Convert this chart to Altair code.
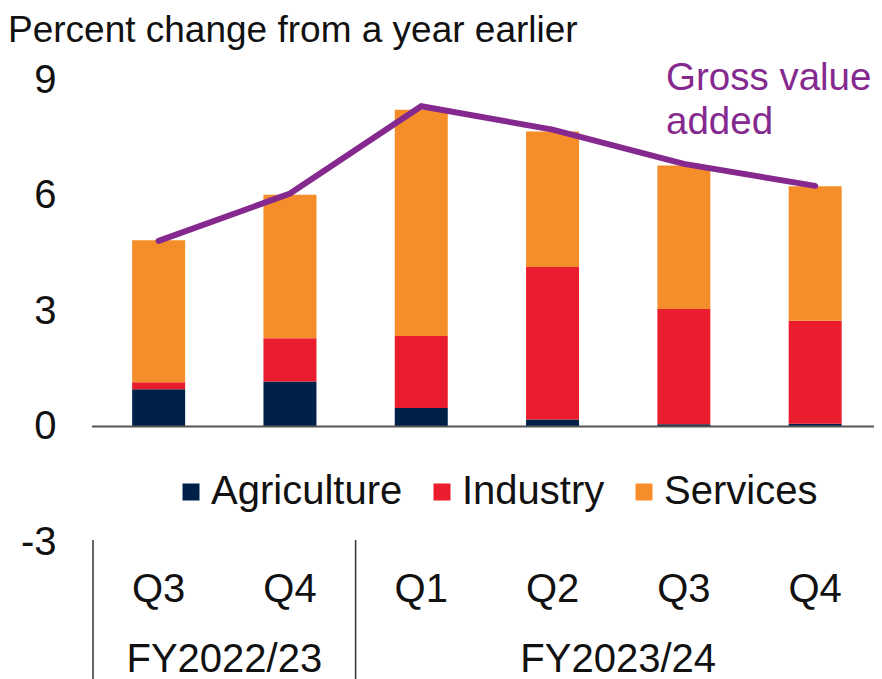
import altair as alt
import pandas as pd

# ---- data ----
quarters = ["Q3", "Q4", "Q1", "Q2", "Q3", "Q4"]
fiscal_years = ["FY2022/23", "FY2022/23", "FY2023/24", "FY2023/24", "FY2023/24", "FY2023/24"]
sectors = ["Agriculture", "Industry", "Services"]
agriculture = [0.97, 1.17, 0.48, 0.18, 0.06, 0.07]
industry = [0.18, 1.12, 1.87, 3.96, 2.99, 2.68]
services = [3.69, 3.73, 5.88, 3.52, 3.73, 3.49]
gross_value_added = [4.82, 6.05, 8.32, 7.71, 6.82, 6.25]
y_ticks = [-3, 0, 3, 6, 9]
title_text = "Percent change from a year earlier"
gva_label = ["Gross value", "added"]

colors = ["#002147", "#E91D2D", "#F58D2B"]
purple = "#86298F"
FONT = "Liberation Sans"
FS = 40

idx = list(range(len(quarters)))
bars_df = pd.DataFrame(
    [
        {"pos": i, "sector": s, "order": k, "value": v}
        for k, (s, vals) in enumerate(zip(sectors, [agriculture, industry, services]))
        for i, v in enumerate(vals)
    ]
)
line_df = pd.DataFrame({"pos": idx, "gva": gross_value_added})
q_df = pd.DataFrame({"pos": idx, "label": quarters, "fy": fiscal_years})
fy_df = q_df.groupby("fy", sort=False)["pos"].agg(["min", "max"]).reset_index()
fy_df["mid"] = (fy_df["min"] + fy_df["max"]) / 2
fy_df["sep"] = fy_df["min"] - 0.5
title_df = pd.DataFrame({"t": [title_text]})

W, H = 786, 462
xscale = alt.Scale(domain=[-0.5, len(quarters) - 1 + 0.41], nice=False, zero=False)
yscale = alt.Scale(domain=[-3, 9], nice=False, zero=False)

bars = alt.Chart(bars_df).mark_bar(size=53).encode(
    x=alt.X("pos:Q", scale=xscale, axis=None),
    y=alt.Y(
        "sum(value):Q",
        stack="zero",
        scale=yscale,
        axis=alt.Axis(
            values=y_ticks, title=None, grid=False, domain=False, ticks=False,
            labelExpr="'' + datum.value",
            labelFontSize=FS, labelFont=FONT, labelColor="#111111", labelPadding=32,
        ),
    ),
    order=alt.Order("order:Q"),
    color=alt.Color(
        "sector:N",
        scale=alt.Scale(domain=sectors, range=colors),
        legend=alt.Legend(
            orient="none", legendX=83, legendY=392, direction="horizontal",
            title=None, symbolType="square", symbolSize=289, symbolStrokeWidth=0,
            symbolOpacity=1, labelFontSize=FS, labelFont=FONT, labelColor="#111111",
            labelOffset=0, columnPadding=19, labelLimit=400,
        ),
    ),
)

zero = alt.Chart(title_df).mark_rule(color="#555555", strokeWidth=2).encode(
    y=alt.Y(datum=0, type="quantitative", scale=yscale),
    x=alt.value(4),
    x2=alt.value(W),
)

line = alt.Chart(line_df).mark_line(color=purple, strokeWidth=6, strokeCap="round").encode(
    x=alt.X("pos:Q", scale=xscale),
    y=alt.Y("gva:Q", scale=yscale),
)

q_text = alt.Chart(q_df).mark_text(fontSize=FS, font=FONT, color="#111111", baseline="middle").encode(
    x=alt.X("pos:Q", scale=xscale),
    y=alt.value(510),
    text="label:N",
)

fy_text = alt.Chart(fy_df).mark_text(fontSize=FS, font=FONT, color="#111111", baseline="middle").encode(
    x=alt.X("mid:Q", scale=xscale),
    y=alt.value(580),
    text="fy:N",
)

seps = alt.Chart(fy_df).mark_rule(color="#333333", strokeWidth=1.5).encode(
    x=alt.X("sep:Q", scale=xscale),
    y=alt.value(460),
    y2=alt.value(605),
)

gva_text = alt.Chart(title_df).mark_text(
    fontSize=38.5, font=FONT, color=purple, align="left", baseline="alphabetic", lineHeight=44
).encode(
    x=alt.value(578),
    y=alt.value(10),
    text=alt.value(gva_label),
)

title = alt.Chart(title_df).mark_text(
    fontSize=37, font=FONT, color="#111111", align="left", baseline="alphabetic"
).encode(
    x=alt.value(-80),
    y=alt.value(-38),
    text="t:N",
)

chart = alt.layer(bars, zero, line, q_text, fy_text, seps, gva_text, title).properties(
    width=W,
    height=H,
    padding={"left": 80, "top": 72, "right": 0, "bottom": 137},
    autosize=alt.AutoSizeParams(type="none"),
).configure_view(stroke=None)

chart.save("out.html", embed_options={"renderer": "svg", "actions": False})
